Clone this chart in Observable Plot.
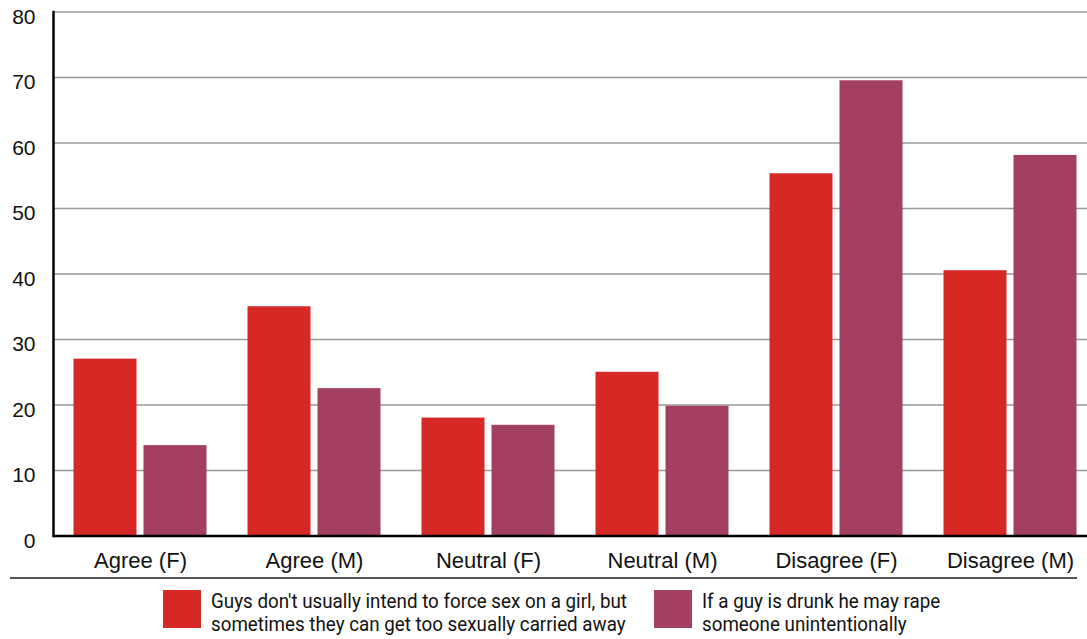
<!DOCTYPE html>
<html>
<head>
<meta charset="utf-8">
<script src="https://cdn.jsdelivr.net/npm/d3@7"></script>
<script src="https://cdn.jsdelivr.net/npm/@observablehq/plot@0.6"></script>
<style>
  html, body { margin: 0; padding: 0; background: #fff; overflow: hidden; width: 1087px; }
  #chart svg { display: block; max-width: none !important; }
  .sep { margin-left: 10px; width: 1067px; border-top: 2px solid #555; margin-top: 2px; }
  .legend { position: relative; height: 50px; margin-top: 11px; font-family: Roboto, "Liberation Sans", sans-serif; font-size: 20px; line-height: 23px; color: #111; }
  .item { position: absolute; top: 0; display: flex; align-items: flex-start; }
  .sw { width: 38px; height: 38px; flex: none; margin-right: 10px; }
  .txt { white-space: nowrap; transform-origin: 0 0; margin-top: 0px; }
</style>
</head>
<body>
<div id="chart"></div>
<div class="sep"></div>
<div class="legend" id="legend"></div>
<script>
const categories = ["Agree (F)", "Agree (M)", "Neutral (F)", "Neutral (M)", "Disagree (F)", "Disagree (M)"];
const seriesNames = [
  "Guys don't usually intend to force sex on a girl, but sometimes they can get too sexually carried away",
  "If a guy is drunk he may rape someone unintentionally"
];
const legendLines = [
  ["Guys don't usually intend to force sex on a girl, but", "sometimes they can get too sexually carried away"],
  ["If a guy is drunk he may rape", "someone unintentionally"]
];
const carriedAway = [27, 35, 18, 25, 55.3, 40.5];
const drunk = [13.8, 22.5, 16.9, 19.8, 69.5, 58.1];
const colors = ["#d62825", "#a33f60"];
const yTicks = [0, 10, 20, 30, 40, 50, 60, 70, 80];

const dataA = categories.map((c, i) => ({category: c, value: carriedAway[i]}));
const dataB = categories.map((c, i) => ({category: c, value: drunk[i]}));

const plot = Plot.plot({
  width: 1097,
  height: 575,
  marginLeft: 53,
  marginRight: 0,
  marginTop: 11.5,
  marginBottom: 39.5,
  style: {fontFamily: "'Liberation Sans', Arial, sans-serif", color: "#111", background: "#fff", maxWidth: "none"},
  x: {domain: categories, padding: 0},
  y: {domain: [0, 80]},
  marks: [
    Plot.gridY(yTicks, {stroke: "#999", strokeOpacity: 1, strokeWidth: 1.5}),
    Plot.barY(dataA, {x: "category", y: "value", fill: colors[0], insetLeft: 20.5, insetRight: 90.5}),
    Plot.barY(dataB, {x: "category", y: "value", fill: colors[1], insetLeft: 90.5, insetRight: 20.5}),
    Plot.axisY({ticks: yTicks, tickSize: 0, tickPadding: 18, fontSize: 21, dy: 5, label: null}),
    Plot.axisX({tickSize: 0, tickPadding: 16, fontSize: 22, label: null}),
    Plot.ruleY([0], {stroke: "#000", strokeWidth: 2.5}),
    Plot.frame({anchor: "left", stroke: "#000", strokeWidth: 2.5})
  ]
});
document.getElementById("chart").append(plot);

const legend = document.getElementById("legend");
const lefts = [163, 654];
const txts = [];
legendLines.forEach((lines, i) => {
  const item = document.createElement("div");
  item.className = "item";
  item.style.left = lefts[i] + "px";
  const sw = document.createElement("div");
  sw.className = "sw";
  sw.style.background = colors[i];
  sw.title = seriesNames[i];
  const txt = document.createElement("div");
  txt.className = "txt";
  txt.innerHTML = lines.join("<br>");
  item.append(sw, txt);
  legend.append(item);
  txts.push(txt);
});
// condense the legend text to match the narrow face of the original
const targetWidth = 416;
const w0 = txts[0].getBoundingClientRect().width;
const k = targetWidth / w0;
txts.forEach(t => { t.style.transform = `scaleX(${k})`; });
</script>
</body>
</html>
